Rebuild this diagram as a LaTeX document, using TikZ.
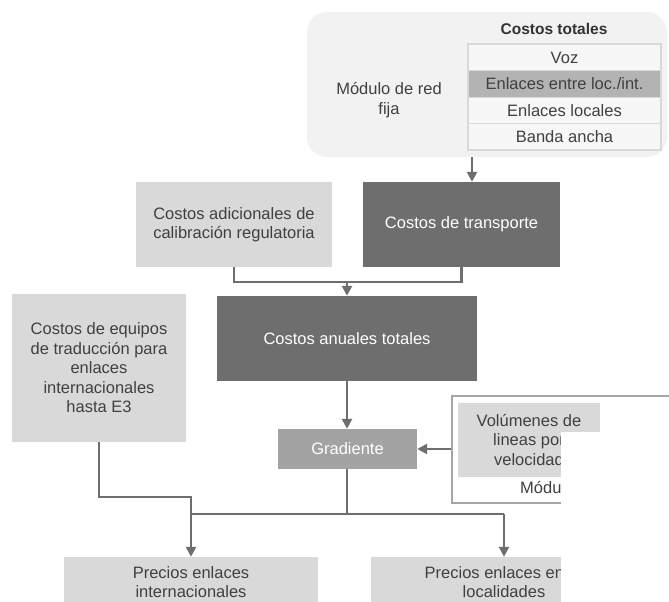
\documentclass[tikz,border=0pt]{standalone}
\usepackage{fontspec}
\setmainfont{Liberation Sans}
\usepackage{xcolor}
\usetikzlibrary{positioning,calc,arrows.meta}

\definecolor{darkbox}{HTML}{6E6E6E}
\definecolor{lightbox}{HTML}{D9D9D9}
\definecolor{gradbox}{HTML}{A3A3A3}
\definecolor{rowhl}{HTML}{B3B3B3}
\definecolor{bggrey}{HTML}{F2F2F2}
\definecolor{cellfill}{HTML}{F7F7F7}
\definecolor{cellline}{HTML}{D9D9D9}
\definecolor{framegrey}{HTML}{A6A6A6}
\definecolor{linegrey}{HTML}{6E6E6E}
\definecolor{txtgrey}{HTML}{404040}

\begin{document}
\begin{tikzpicture}[x=1pt, y=-1pt, font=\fontsize{16.5}{19.5}\selectfont,
    box/.style={rectangle, inner sep=0pt, align=center, text=txtgrey},
    dark/.style={box, fill=darkbox, text=white},
    light/.style={box, fill=lightbox},
    cell/.style={box, draw=cellline, line width=1.5pt, fill=cellfill,
        minimum width=193, minimum height=26.5},
    flow/.style={draw=linegrey, line width=2.5pt},
    arr/.style={flow, -{Triangle[width=10pt,length=10pt]}}]
    \clip (0,0) rectangle (669,602);

    % Fixed network module with cost table
    \node [box, fill=bggrey, rounded corners=20pt, minimum width=360, minimum height=145] (fija) at (487,84.5) {};
    \node [box] (mod) at (389,100) {Módulo de red\\fija};
    \node [box, font=\fontsize{15.5}{18}\bfseries\selectfont, text=black!80] (ct) at (554,29) {Costos totales};
    \node [cell] (voz) at (564.5,57.5) {Voz};
    \node [cell, fill=rowhl] (eli) at (564.5,84) {Enlaces entre loc./int.};
    \node [cell] (elo) at (564.5,110.5) {Enlaces locales};
    \node [cell] (ban) at (564.5,136.5) {Banda ancha};

    % Cost blocks
    \node [light, minimum width=196, minimum height=85] (ad) at (234,224.5) {Costos adicionales de\\calibración regulatoria};
    \node [dark, minimum width=197, minimum height=85] (tr) at (461.5,224.5) {Costos de transporte};
    \node [dark, minimum width=260, minimum height=85] (an) at (347,338.5) {Costos anuales totales};
    \node [light, minimum width=174, minimum height=148] (eq) at (99,368) {Costos de equipos\\de traducción para\\enlaces\\internacionales\\hasta E3};
    \node [box, fill=gradbox, text=white, minimum width=139, minimum height=40] (grad) at (347.5,449) {Gradiente};

    % Volume module (partly hidden)
    \node [box, draw=framegrey, line width=1.5pt, fill=white, minimum width=248, minimum height=107] (vf) at (576,449.5) {};
    \node [light, minimum width=142, minimum height=74] (vol) at (529,440) {Volúmenes de\\lineas por\\velocidad};
    \node [box, anchor=west] (mdu) at (520,487) {Módulo};

    % Prices
    \node [light, minimum width=254, minimum height=50] (pi) at (191,582) {Precios enlaces\\internacionales};
    \node [light, minimum width=266, minimum height=50] (pl) at (504,582) {Precios enlaces entre\\localidades};

    \fill [white] (561,432) rectangle (700,640);

    % Connectors
    \coordinate (t0) at (472,157);
    \draw [arr] (t0) -- (t0 |- tr.north);
    \coordinate (j1) at (347,282);
    \draw [flow] (ad.south) |- (j1) -| (tr.south);
    \draw [arr] (j1) -- (an.north);
    \draw [arr] (an.south) -- (an.south |- grad.north);
    \draw [arr] (vf.west |- grad.east) -- (grad.east);
    \coordinate (k1) at (191,497);
    \draw [arr] (eq.south) |- (k1) -| (pi.north);
    \coordinate (b1) at (191,514);
    \coordinate (b2) at (504,514);
    \draw [flow] (b1) -- (b2);
    \draw [flow] (an.south |- grad.south) -- (an.south |- b1);
    \draw [arr] (b2) -- (pl.north);
\end{tikzpicture}
\end{document}
